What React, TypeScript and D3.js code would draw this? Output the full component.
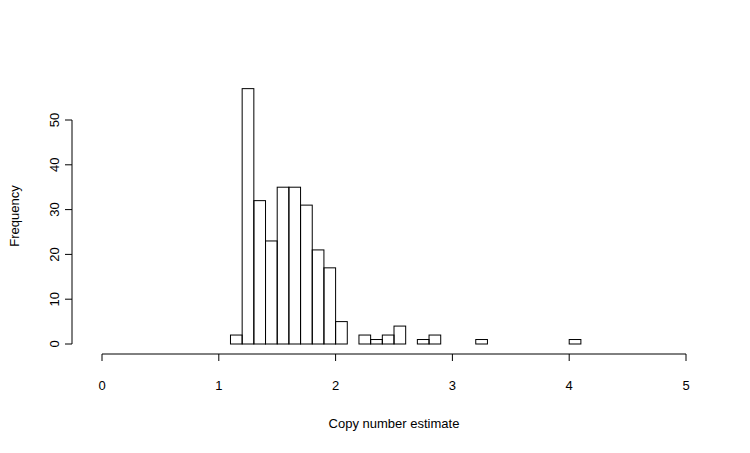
import React from "react"
import * as d3 from "d3"

// bin starts (width 0.1) and counts
const binStarts = d3.range(0, 50).map((i) => i / 10)
const nonZero: [number, number][] = [
  [1.1, 2], [1.2, 57], [1.3, 32], [1.4, 23], [1.5, 35], [1.6, 35], [1.7, 31],
  [1.8, 21], [1.9, 17], [2.0, 5], [2.2, 2], [2.3, 1], [2.4, 2], [2.5, 4],
  [2.7, 1], [2.8, 2], [3.2, 1], [4.0, 1],
]
const counts = binStarts.map((s) => {
  const f = nonZero.find(([b]) => Math.abs(b - s) < 1e-6)
  return f ? f[1] : 0
})
const xTicks = [0, 1, 2, 3, 4, 5]
const yTicks = [0, 10, 20, 30, 40, 50]

export default function App() {
  const x = d3.scaleLinear().domain([0, 5]).range([102, 686])
  const y = d3.scaleLinear().domain([0, 50]).range([344, 120])
  const font = "Liberation Sans, Arial, sans-serif"
  return (
    <svg width={750} height={453} style={{ position: "absolute", left: 0, top: 0, background: "#fff" }} fontFamily={font} fontSize={13}>
      {binStarts.map((s, i) => (
        <rect key={i} x={x(s)} y={y(counts[i])} width={x(s + 0.1) - x(s)} height={y(0) - y(counts[i])}
          fill="none" stroke="#000" strokeWidth={1} />
      ))}
      <line x1={x(0)} x2={x(5)} y1={354} y2={354} stroke="#000" />
      {xTicks.map((t) => (
        <g key={t}>
          <line x1={x(t)} x2={x(t)} y1={354} y2={361} stroke="#000" />
          <text x={x(t)} y={390} textAnchor="middle">{t}</text>
        </g>
      ))}
      <line x1={72} x2={72} y1={y(0)} y2={y(50)} stroke="#000" />
      {yTicks.map((t) => (
        <g key={t}>
          <line x1={65} x2={72} y1={y(t)} y2={y(t)} stroke="#000" />
          <text transform={`translate(59,${y(t)}) rotate(-90)`} textAnchor="middle">{t}</text>
        </g>
      ))}
      <text x={394} y={428} textAnchor="middle">Copy number estimate</text>
      <text transform="translate(19,216) rotate(-90)" textAnchor="middle">Frequency</text>
    </svg>
  )
}
